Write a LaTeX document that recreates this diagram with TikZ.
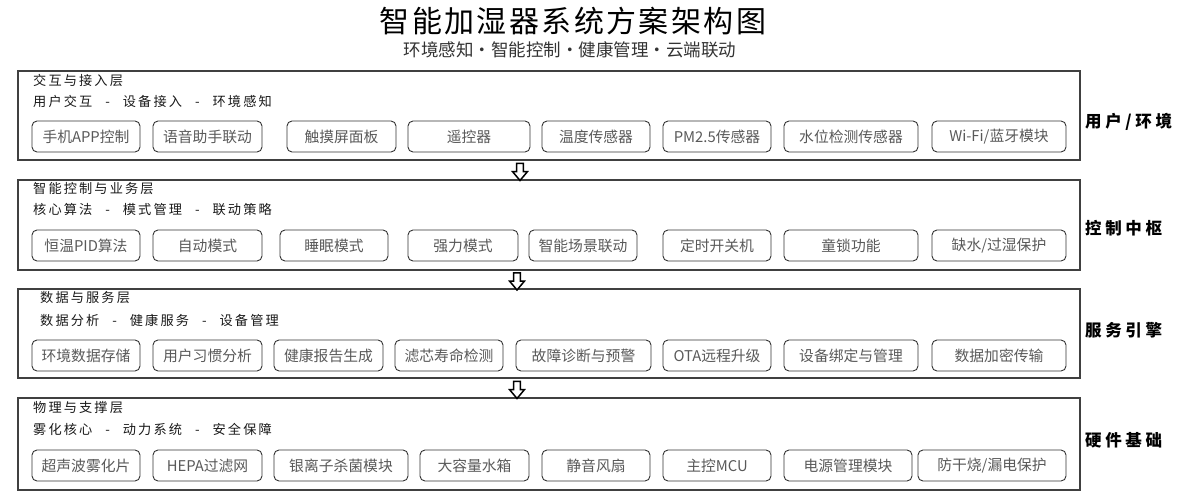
\documentclass[tikz,border=0pt]{standalone}
\usepackage{fontspec}
\setmainfont{Noto Sans CJK SC}
\usetikzlibrary{shapes.arrows}
\newcommand{\sepdash}{\hspace{13pt}-\hspace{13pt}}
\begin{document}
\begin{tikzpicture}[x=1pt,y=-1pt,
  layerbox/.style={draw=black!75,line width=1.1pt,rectangle,inner sep=0pt},
  itembox/.style={draw=black!80,line width=0.9pt,rounded corners=5pt,minimum height=31pt,inner sep=0pt,font=\fontsize{14.8}{15}\selectfont,text=black!65},
  lhead/.style={anchor=west,inner sep=0pt,font=\fontsize{13.2}{14}\selectfont\addfontfeature{LetterSpace=16},text=black!90},
  sidelabel/.style={anchor=west,inner sep=0pt,font=\fontsize{16.5}{17}\selectfont\bfseries\addfontfeature{LetterSpace=22},text=black},
  flowarrow/.style={single arrow,draw=black,fill=white,line width=1.5pt,shape border rotate=270,minimum height=17pt,inner sep=2.6pt,single arrow head extend=4pt,single arrow tip angle=80}
]
\useasboundingbox (0,0) rectangle (1200,500);
% title
\node[inner sep=0pt,font=\fontsize{30}{32}\selectfont\addfontfeature{LetterSpace=8}] (title) at (573,21) {智能加湿器系统方案架构图};
\node[inner sep=0pt,font=\fontsize{17.5}{18}\selectfont,text=black!80] (subtitle) at (570,50) {环境感知•智能控制•健康管理•云端联动};

% layers
\node[layerbox,minimum width=1062pt,minimum height=89pt] (L1) at (549,115.5) {};
\node[layerbox,minimum width=1062pt,minimum height=90pt] (L2) at (549,225) {};
\node[layerbox,minimum width=1062pt,minimum height=89pt] (L3) at (549,333.5) {};
\node[layerbox,minimum width=1062pt,minimum height=92pt] (L4) at (549,444) {};

% layer headings
\node[lhead] (h1) at (33,80) {交互与接入层};
\node[lhead] (s1) at (33,101) {用户交互\sepdash 设备接入\sepdash 环境感知};
\node[lhead] (h2) at (33,189) {智能控制与业务层};
\node[lhead] (s2) at (33,210) {核心算法\sepdash 模式管理\sepdash 联动策略};
\node[lhead] (h3) at (40,298) {数据与服务层};
\node[lhead] (s3) at (40,320) {数据分析\sepdash 健康服务\sepdash 设备管理};
\node[lhead] (h4) at (33,408) {物理与支撑层};
\node[lhead] (s4) at (33,429) {雾化核心\sepdash 动力系统\sepdash 安全保障};

% side labels
\node[sidelabel] (r1) at (1085,122) {用户/环境};
\node[sidelabel] (r2) at (1085,228) {控制中枢};
\node[sidelabel] (r3) at (1085,330) {服务引擎};
\node[sidelabel] (r4) at (1085,440) {硬件基础};

% layer 1 items
\node[itembox,minimum width=108pt] (a1) at (86,136.5) {手机APP控制};
\node[itembox,minimum width=109pt] (a2) at (207.5,136.5) {语音助手联动};
\node[itembox,minimum width=109pt] (a3) at (341.5,136.5) {触摸屏面板};
\node[itembox,minimum width=122pt] (a4) at (469,136.5) {遥控器};
\node[itembox,minimum width=108pt] (a5) at (596,136.5) {温度传感器};
\node[itembox,minimum width=108pt] (a6) at (717,136.5) {PM2.5传感器};
\node[itembox,minimum width=134pt] (a7) at (851,136.5) {水位检测传感器};
\node[itembox,minimum width=134pt] (a8) at (999,136.5) {Wi-Fi/蓝牙模块};

% layer 2 items
\node[itembox,minimum width=108pt] (b1) at (86,245.5) {恒温PID算法};
\node[itembox,minimum width=109pt] (b2) at (207.5,245.5) {自动模式};
\node[itembox,minimum width=108pt] (b3) at (334,245.5) {睡眠模式};
\node[itembox,minimum width=110pt] (b4) at (463,245.5) {强力模式};
\node[itembox,minimum width=108pt] (b5) at (583,245.5) {智能场景联动};
\node[itembox,minimum width=108pt] (b6) at (717,245.5) {定时开关机};
\node[itembox,minimum width=134pt] (b7) at (851,245.5) {童锁功能};
\node[itembox,minimum width=134pt] (b8) at (999,245.5) {缺水/过湿保护};

% layer 3 items
\node[itembox,minimum width=108pt] (c1) at (86,355.5) {环境数据存储};
\node[itembox,minimum width=109pt] (c2) at (207.5,355.5) {用户习惯分析};
\node[itembox,minimum width=109pt] (c3) at (328.5,355.5) {健康报告生成};
\node[itembox,minimum width=108pt] (c4) at (449,355.5) {滤芯寿命检测};
\node[itembox,minimum width=135pt] (c5) at (583.5,355.5) {故障诊断与预警};
\node[itembox,minimum width=108pt] (c6) at (717,355.5) {OTA远程升级};
\node[itembox,minimum width=134pt] (c7) at (851,355.5) {设备绑定与管理};
\node[itembox,minimum width=134pt] (c8) at (999,355.5) {数据加密传输};

% layer 4 items
\node[itembox,minimum width=108pt] (d1) at (86,465.5) {超声波雾化片};
\node[itembox,minimum width=109pt] (d2) at (207.5,465.5) {HEPA过滤网};
\node[itembox,minimum width=134pt] (d3) at (341,465.5) {银离子杀菌模块};
\node[itembox,minimum width=109pt] (d4) at (474.5,465.5) {大容量水箱};
\node[itembox,minimum width=108pt] (d5) at (596,465.5) {静音风扇};
\node[itembox,minimum width=108pt] (d6) at (717,465.5) {主控MCU};
\node[itembox,minimum width=128pt] (d7) at (848,465.5) {电源管理模块};
\node[itembox,minimum width=148pt] (d8) at (992,465.5) {防干烧/漏电保护};

% arrows between layers
\path (L1.south) -- (L2.north) coordinate[pos=0.5] (m12);
\path (L2.south) -- (L3.north) coordinate[pos=0.5] (m23);
\path (L3.south) -- (L4.north) coordinate[pos=0.5] (m34);
\node[flowarrow] (ar1) at (m12 -| 520,0) {};
\node[flowarrow] (ar2) at (m23 -| 517,0) {};
\node[flowarrow] (ar3) at (m34 -| 517,0) {};
\end{tikzpicture}
\end{document}
